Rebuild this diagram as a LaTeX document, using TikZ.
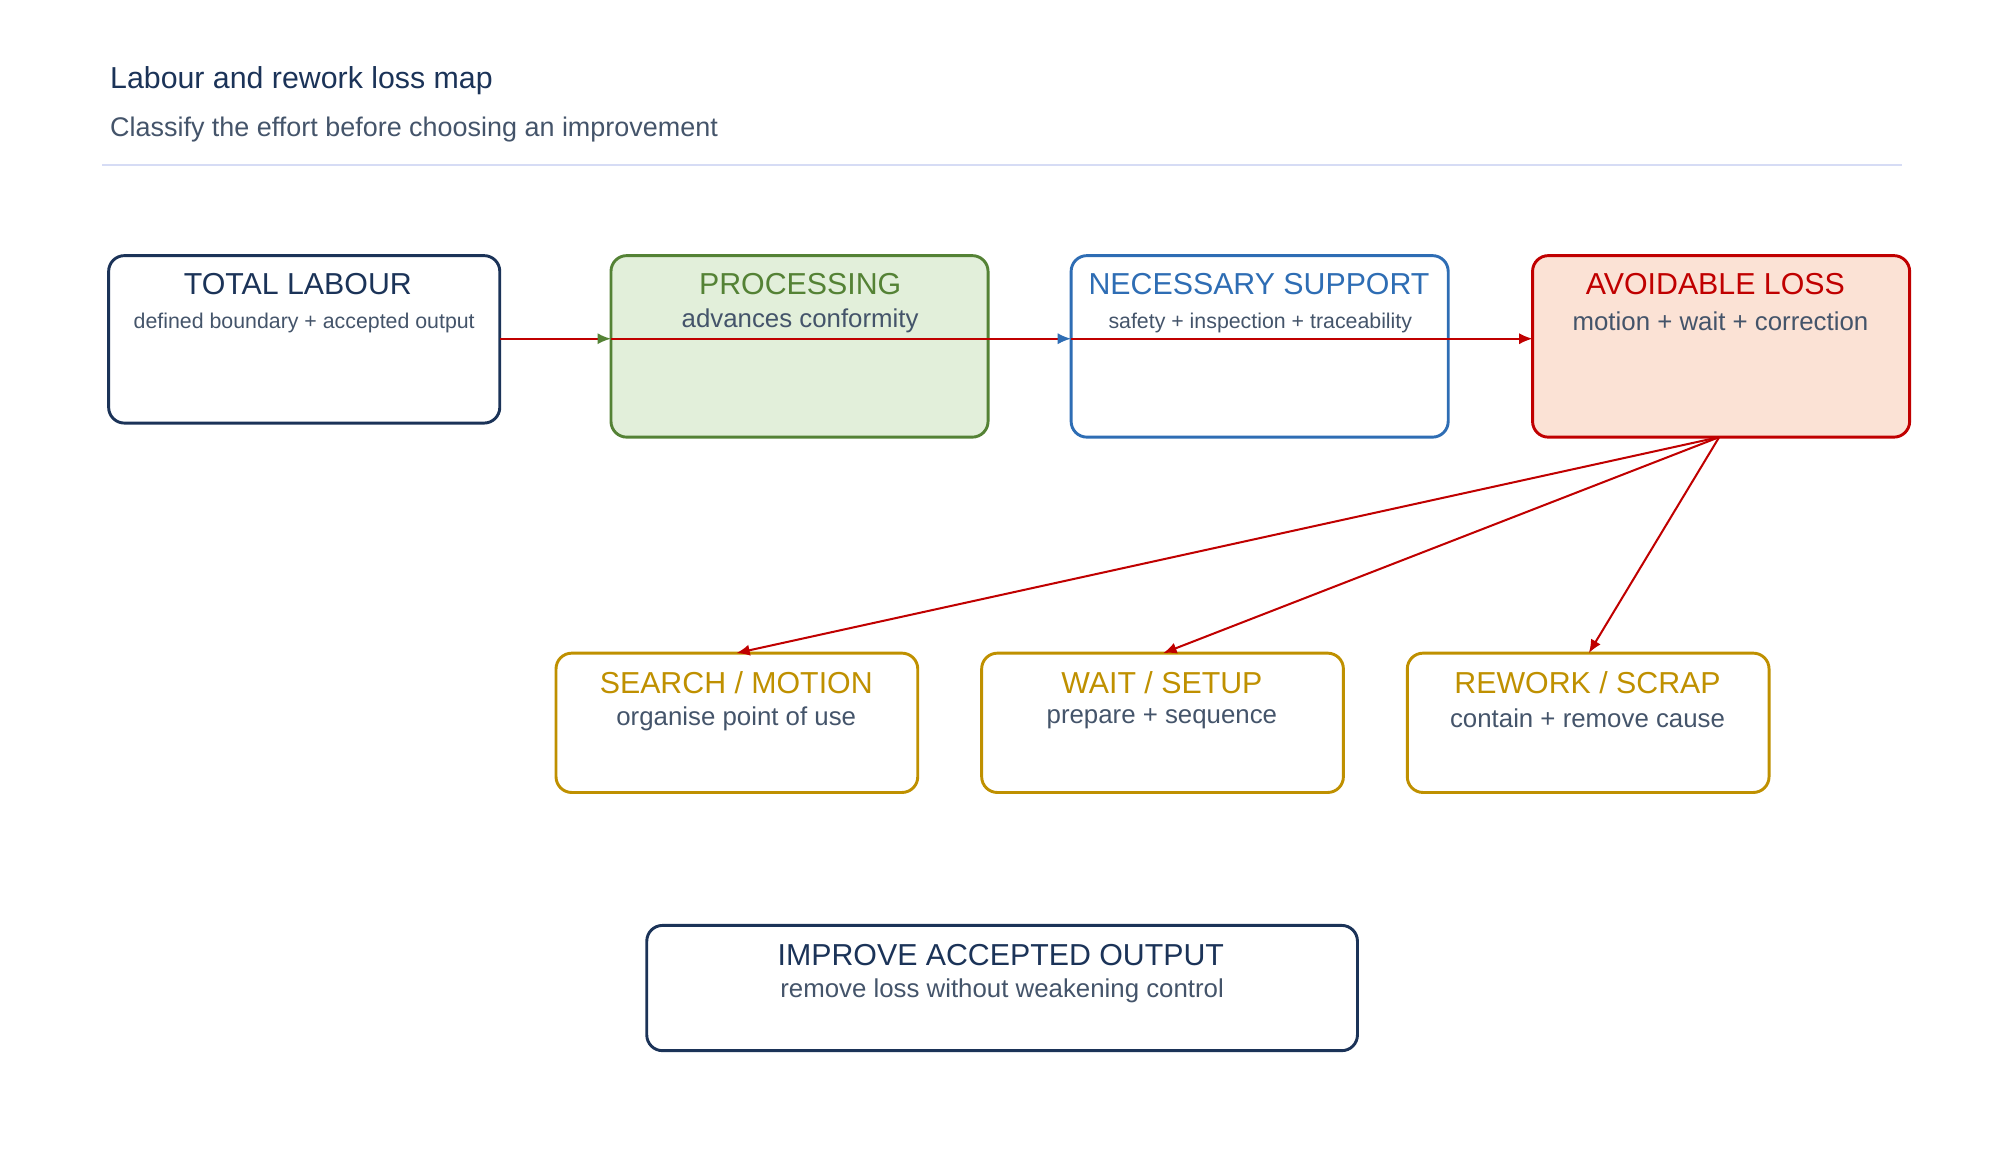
\documentclass[tikz,border=0pt]{standalone}
\usepackage{fontspec}
\setmainfont{Liberation Sans}
\usetikzlibrary{arrows.meta}
\definecolor{navy}{HTML}{1B3358}
\definecolor{leaf}{HTML}{548235}
\definecolor{leaffill}{HTML}{E2EFDA}
\definecolor{steel}{HTML}{2E6DB4}
\definecolor{crimson}{HTML}{C00000}
\definecolor{lossfill}{HTML}{FBE2D5}
\definecolor{ochre}{HTML}{BF9000}
\definecolor{slate}{HTML}{44546A}
\definecolor{rulecol}{HTML}{D6DCF5}

\begin{document}
\begin{tikzpicture}[x=0.02cm,y=-0.02cm]
		% Define box and link styles
		\tikzset{box/.style={draw, line width=1.3pt, rounded corners=7pt},
			head/.style={font=\fontsize{13.5}{15}\selectfont},
			sub/.style={font=\fontsize{11.5}{13}\selectfont, text=slate},
			link/.style={crimson, line width=0.9pt}}
		
		% Fix the page size
		\useasboundingbox (0,0) rectangle (1560,908);
		
		% Heading and rule
		\node[anchor=west, text=navy, font=\fontsize{13.5}{15}\selectfont] (title) at (80,63) {Labour and rework loss map};
		\node[anchor=west, text=slate, font=\fontsize{12}{14}\selectfont] (subtitle) at (80,101) {Classify the effort before choosing an improvement};
		\draw[rulecol, line width=0.8pt] (80,129) -- (1488,129);
		
		% Top row of boxes
		\draw[box, navy] (85,200) rectangle (391,331);
		\coordinate (tl) at (391,265);
		\node[head, text=navy] (tlh) at (233,222) {TOTAL LABOUR};
		\node[text=slate, font=\fontsize{9.5}{11}\selectfont] (tls) at (238,253) {defined boundary + accepted output};
		
		\draw[box, leaf, fill=leaffill] (478,200) rectangle (773,342);
		\coordinate (pr) at (478,265);
		\node[head, text=leaf] (prh) at (626,222) {PROCESSING};
		\node[sub] (prs) at (626,251) {advances conformity};
		
		\draw[box, steel] (838,200) rectangle (1133,342);
		\coordinate (ns) at (838,265);
		\node[head, text=steel] (nsh) at (985,222) {NECESSARY SUPPORT};
		\node[text=slate, font=\fontsize{9.5}{11}\selectfont] (nss) at (986,253) {safety + inspection + traceability};
		
		\draw[box, crimson, fill=lossfill] (1199,200) rectangle (1494,342);
		\coordinate (al) at (1199,265);
		\coordinate (als) at (1345,342);
		\node[head, text=crimson] (alh) at (1342,222) {AVOIDABLE LOSS};
		\node[sub] (als2) at (1346,251) {motion + wait + correction};
		
		% Lower row of boxes
		\draw[box, ochre] (435,511) rectangle (718,620);
		\coordinate (sm) at (576,511);
		\node[head, text=ochre] (smh) at (576,534) {SEARCH / MOTION};
		\node[sub] (sms) at (576,562) {organise point of use};
		
		\draw[box, ochre] (768,511) rectangle (1051,620);
		\coordinate (ws) at (910,511);
		\node[head, text=ochre] (wsh) at (909,534) {WAIT / SETUP};
		\node[sub] (wss) at (909,562) {prepare + sequence};
		
		\draw[box, ochre] (1101,511) rectangle (1384,620);
		\coordinate (rs) at (1243,511);
		\node[head, text=ochre] (rsh) at (1242,534) {REWORK / SCRAP};
		\node[sub] (rss) at (1242,562) {contain + remove cause};
		
		\draw[box, navy] (506,724) rectangle (1062,822);
		\node[head, text=navy] (iah) at (783,747) {IMPROVE ACCEPTED OUTPUT};
		\node[sub] (ias) at (784,775) {remove loss without weakening control};
		
		% Connectors
		\draw[link, -{Latex[length=6pt, width=5pt, color=leaf]}] (tl) -- (pr);
		\draw[link, -{Latex[length=6pt, width=5pt, color=steel]}] (pr) -- (ns);
		\draw[link, -{Latex[length=6pt, width=5pt]}] (ns) -- (al);
		\foreach \t in {sm, ws, rs}
			\draw[link, -{Latex[length=6pt, width=5pt]}] (als) -- (\t);
	\end{tikzpicture}
\end{document}
